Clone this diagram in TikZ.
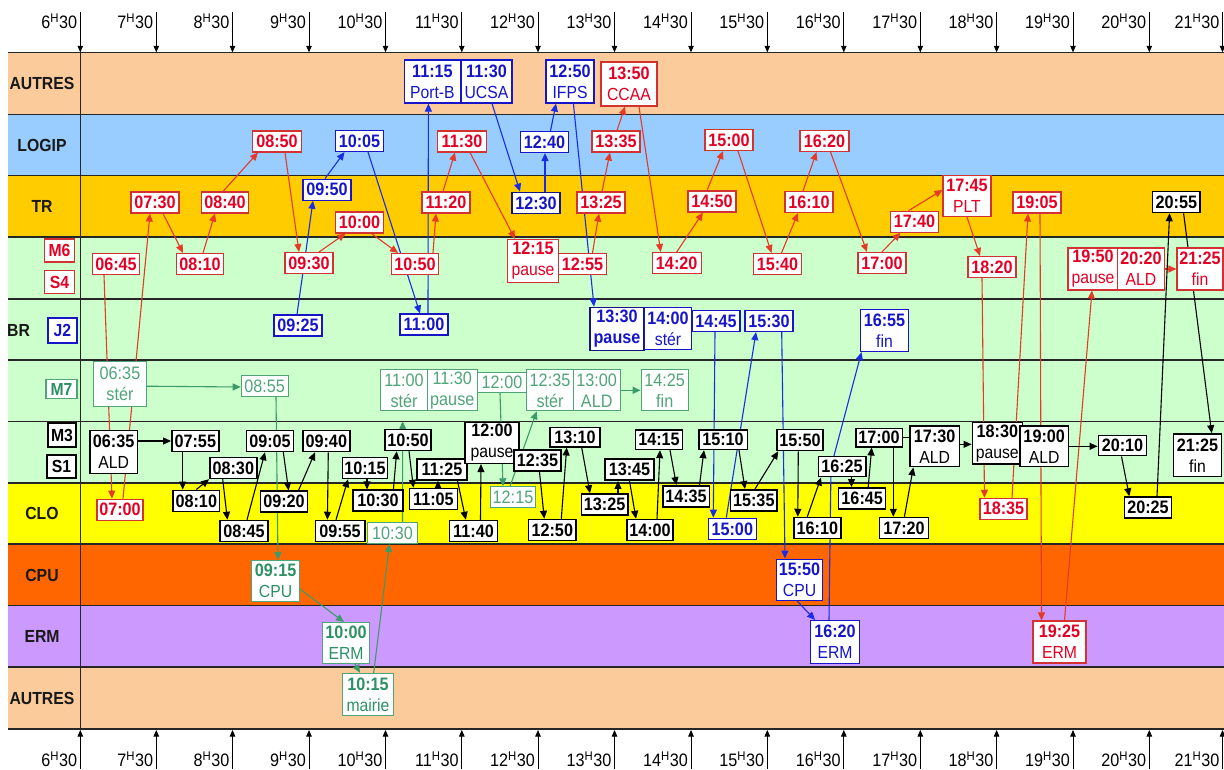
\documentclass[tikz,border=0pt]{standalone}
\usepackage{fontspec}
\setmainfont{Liberation Sans}[FakeStretch=0.9]
\usetikzlibrary{arrows.meta}
\definecolor{cPeach}{RGB}{251,203,155}
\definecolor{cLogip}{RGB}{153,204,255}
\definecolor{cTR}{RGB}{255,204,0}
\definecolor{cGreenBand}{RGB}{204,255,204}
\definecolor{cCLO}{RGB}{255,255,0}
\definecolor{cCPU}{RGB}{255,102,0}
\definecolor{cERM}{RGB}{204,153,255}
\definecolor{cRedT}{RGB}{228,0,36}
\definecolor{cRedB}{RGB}{210,50,50}
\definecolor{cRedL}{RGB}{228,58,38}
\definecolor{cBlueT}{RGB}{22,22,200}
\definecolor{cBlueN}{RGB}{20,20,130}
\definecolor{cBlueL}{RGB}{25,45,230}
\definecolor{cGreenT}{RGB}{80,165,120}
\definecolor{cGreenD}{RGB}{45,145,100}
\definecolor{cGreenL}{RGB}{60,155,105}
\pgfdeclarelayer{bands}
\pgfdeclarelayer{links}
\pgfsetlayers{bands,links,main}
\newcommand\secl[1]{{\fontsize{17.5}{21}\selectfont\mdseries #1}}
\begin{document}
\begin{tikzpicture}[x=1pt,y=-1pt,
  tbox/.style={draw, fill=white, inner sep=0pt, minimum width=47pt, minimum height=21pt, align=center, font=\fontsize{18}{21}\selectfont\bfseries},
  two/.style={minimum height=42pt},
  rb/.style={tbox, draw=cRedB, text=cRedT, line width=1.1pt},
  bb/.style={tbox, draw=cBlueT, text=cBlueT, line width=1.2pt},
  bbt/.style={tbox, draw=cBlueN, text=cBlueT, line width=1.8pt},
  gb/.style={tbox, draw=cGreenT, text=cGreenT, line width=1pt, font=\fontsize{18}{21}\selectfont},
  gd/.style={tbox, draw=cGreenT, text=cGreenD, line width=1pt},
  kb/.style={tbox, draw=black, text=black, line width=1.5pt},
  lred/.style={draw=cRedL, line width=1.1pt, -{Triangle[length=8pt,width=7pt]}},
  lblue/.style={draw=cBlueL, line width=1.1pt, -{Triangle[length=8pt,width=7pt]}},
  lgreen/.style={draw=cGreenL, line width=1.1pt, -{Triangle[length=8pt,width=7pt]}},
  lblack/.style={draw=black, line width=1.1pt, -{Triangle[length=8pt,width=7pt]}},
  bandline/.style={draw=black!85, line width=1.2pt},
  lab/.style={font=\fontsize{17.5}{17.5}\selectfont\bfseries, text=black!90, inner sep=0pt},
  sideb/.style={draw, fill=white, inner sep=0pt, minimum width=30pt, minimum height=23pt, line width=1.1pt, font=\fontsize{17.5}{17.5}\selectfont\bfseries},
  axl/.style={font=\fontsize{18}{18}\selectfont, anchor=base east, inner sep=0pt},
  axarrow/.style={line width=0.8pt, -{Triangle[length=6.5pt,width=5.5pt]}}
]
\useasboundingbox (0,0) rectangle (1224,769);
\begin{pgfonlayer}{bands}
\fill[white] (0,0) rectangle (1224,769);
\fill[cPeach] (8,52.3) rectangle (1224,114.3);
\fill[cLogip] (8,114.3) rectangle (1224,175.7);
\fill[cTR] (8,175.7) rectangle (1224,237);
\fill[cGreenBand] (8,237) rectangle (1224,483);
\fill[cCLO] (8,483) rectangle (1224,544);
\fill[cCPU] (8,544) rectangle (1224,605.7);
\fill[cERM] (8,605.7) rectangle (1224,667);
\fill[cPeach] (8,667) rectangle (1224,729);
\foreach \yy in {52.3,114.3,175.7,237,299,360,421.7,483,544,605.7,667,729}
  \draw[bandline] (8,\yy) -- (1224,\yy);
\draw[bandline] (80.3,52.3) -- (80.3,729);
\end{pgfonlayer}

% time axis
\foreach \xx/\hh in {80.3/6,156.3/7,232.5/8,309/9,385.5/10,461.8/11,538/12,614.5/13,691/14,767.3/15,843.8/16,920.3/17,996.6/18,1073/19,1149.3/20,1222.5/21}{
  \draw[axarrow] (\xx,12.3) -- (\xx,52.3);
  \draw[axarrow] (\xx,769) -- (\xx,730);
  \node[axl] (ta\hh) at (\xx-3,28.5) {\hh\textsuperscript{H}30};
  \node[axl] (ba\hh) at (\xx-3,766.5) {\hh\textsuperscript{H}30};
}

% row labels
\node[lab] (lA1) at (42,83.3) {AUTRES};
\node[lab] (lLO) at (42,145) {LOGIP};
\node[lab] (lTR) at (42,206.5) {TR};
\node[lab,anchor=west] (lBR) at (7,330) {BR};
\node[lab] (lCLO) at (42,513.5) {CLO};
\node[lab] (lCPU) at (42,575) {CPU};
\node[lab] (lERM) at (42,636.5) {ERM};
\node[lab] (lA2) at (42,698) {AUTRES};
\node[sideb, draw=cRedB, text=cRedT] (sM6) at (59.5,250.5) {M6};
\node[sideb, draw=cRedB, text=cRedT] (sS4) at (59.5,282) {S4};
\node[sideb, draw=cBlueT, text=cBlueT, minimum width=29pt, minimum height=25pt] (sJ2) at (62.5,330.5) {J2};
\node[sideb, draw=cGreenT, text=cGreenD, minimum width=31pt, minimum height=19pt] (sM7) at (61.5,389) {M7};
\node[sideb, draw=black, text=black, line width=1.5pt, minimum width=28pt, minimum height=24pt] (sM3) at (62,435) {M3};
\node[sideb, draw=black, text=black, line width=1.5pt, minimum width=29pt] (sS1) at (61.5,466.5) {S1};

% red nodes
\node[rb] (r0645) at (116,264) {06:45};
\node[rb,minimum width=48pt] (r0730) at (155,202.5) {07:30};
\node[rb] (r0810) at (200,264) {08:10};
\node[rb] (r0840) at (225,202.5) {08:40};
\node[rb,minimum width=49pt] (r0850) at (277,141.5) {08:50};
\node[rb,minimum width=48pt] (r0930) at (309,263) {09:30};
\node[rb,minimum width=48pt] (r1000) at (359.5,222.5) {10:00};
\node[rb] (r1050) at (415,264) {10:50};
\node[rb,minimum width=48pt] (r1120) at (446,202.5) {11:20};
\node[rb,minimum width=49pt] (r1130) at (462,141.5) {11:30};
\node[rb,two,minimum width=51pt,minimum height=43pt] (r1215) at (533,261) {12:15\\\secl{pause}};
\node[rb,minimum width=48pt] (r1255) at (582.5,264) {12:55};
\node[rb,minimum width=48pt] (r1325) at (601,202.5) {13:25};
\node[rb,minimum width=48pt] (r1335) at (616,141.5) {13:35};
\node[rb,two,minimum width=56pt,minimum height=44pt] (r1350) at (629,84) {13:50\\\secl{CCAA}};
\node[rb,minimum width=49pt] (r1420) at (676.7,263) {14:20};
\node[rb,minimum width=48pt] (r1450) at (712,201.5) {14:50};
\node[rb,minimum width=48pt] (r1500) at (729,140) {15:00};
\node[rb,minimum width=48pt] (r1540) at (777.5,264) {15:40};
\node[rb,minimum width=48pt] (r1610) at (809,202) {16:10};
\node[rb,minimum width=49pt] (r1620) at (824.5,141) {16:20};
\node[rb,minimum width=48pt] (r1700) at (882,263) {17:00};
\node[rb,minimum width=48pt] (r1740) at (914.5,221.7) {17:40};
\node[rb,two,minimum width=48pt,minimum height=41pt] (r1745) at (967,196) {17:45\\\secl{PLT}};
\node[rb,minimum width=48pt] (r1820) at (992,267) {18:20};
\node[rb,minimum width=48pt] (r1905) at (1037,202.5) {19:05};
\node[rb,two,minimum width=50pt] (r1950) at (1093,269) {19:50\\\secl{pause}};
\node[rb,two,minimum width=46.5pt] (r2020) at (1141,269) {20:20\\\secl{ALD}};
\node[rb,two,minimum width=46pt] (r2125) at (1200,269) {21:25\\\secl{fin}};
\node[rb,minimum width=46pt] (r0700) at (120,509.7) {07:00};
\node[rb] (r1835) at (1003.5,508.8) {18:35};
\node[rb,two,minimum width=53pt] (r1925) at (1059.5,642) {19:25\\\secl{ERM}};

% blue nodes
\node[bb,minimum width=48pt] (b0925) at (298,325.5) {09:25};
\node[bb,minimum width=48pt] (b0950) at (327,189.7) {09:50};
\node[bb,minimum width=48pt] (b1005) at (359.5,141) {10:05};
\node[bb,minimum width=48pt] (b1100) at (424,324.5) {11:00};
\node[bb,two,minimum width=56.6pt,minimum height=43pt] (b1115) at (432.4,81.5) {11:15\\\secl{Port-B}};
\node[bb,two,minimum width=51pt,minimum height=43pt] (b1130) at (486.5,81.5) {11:30\\\secl{UCSA}};
\node[bbt,minimum width=48pt] (b1230) at (536,203) {12:30};
\node[bb,minimum width=48pt] (b1240) at (544.5,142) {12:40};
\node[bb,two,minimum width=48pt,minimum height=43pt] (b1250) at (570,81.5) {12:50\\\secl{IFPS}};
\node[bbt,two,minimum width=54pt,minimum height=43pt] (b1330) at (617,329) {13:30\\pause};
\node[bb,two,minimum width=47.5pt] (b1400) at (668,328.5) {14:00\\\secl{stér}};
\node[bb,minimum width=48pt] (b1445) at (716,321) {14:45};
\node[bb,minimum width=48pt] (b1530) at (769,321) {15:30};
\node[bb,two,minimum width=48pt] (b1655) at (884.5,330.5) {16:55\\\secl{fin}};
\node[bb,minimum width=48pt] (b1500) at (732.3,528.8) {15:00};
\node[bb,two,minimum width=46.5pt,minimum height=41pt] (b1550) at (799.5,579.7) {15:50\\\secl{CPU}};
\node[bb,two,minimum width=48.5pt,minimum height=43pt] (b1620) at (835,642) {16:20\\\secl{ERM}};

% green nodes
\node[gb,two,minimum width=53.4pt,minimum height=45pt] (g0635) at (120,384.2) {06:35\\stér};
\node[gb,minimum width=47pt] (g0855) at (264.7,386) {08:55};
\node[gb,two,minimum width=46.6pt,minimum height=41pt] (g1100) at (404,390.3) {11:00\\stér};
\node[gb,two,minimum width=50pt,minimum height=41pt] (g1130) at (452.3,390.3) {11:30\\pause};
\node[gb,minimum width=49.4pt,minimum height=20pt] (g1200) at (502,382.7) {12:00};
\node[gb,two,minimum width=46.6pt,minimum height=41pt] (g1235) at (550,390.3) {12:35\\stér};
\node[gb,two,minimum width=46.7pt,minimum height=41pt] (g1300) at (596.7,390.3) {13:00\\ALD};
\node[gb,two,minimum width=47.3pt,minimum height=41pt] (g1425) at (664.7,390.3) {14:25\\fin};
\node[gb,minimum width=49.5pt] (g1030) at (392.5,533) {10:30};
\node[gb,minimum width=45.5pt] (g1215) at (513,497.3) {12:15};
\node[gd,two,minimum width=47.5pt,minimum height=41pt] (g0915) at (275.6,581) {09:15\\\secl{CPU}};
\node[gd,two,minimum width=47.5pt,minimum height=41pt] (g1000) at (346,643) {10:00\\\secl{ERM}};
\node[gd,two,minimum width=50.5pt,minimum height=42.4pt] (g1015) at (368,694.5) {10:15\\\secl{mairie}};

% black nodes
\node[kb,two,minimum width=47.3pt,minimum height=42.6pt] (k0635) at (113.7,452) {06:35\\\secl{ALD}};
\node[kb] (k0755) at (195.3,441) {07:55};
\node[kb] (k0905) at (270,441) {09:05};
\node[kb] (k0940) at (326.3,441) {09:40};
\node[kb] (k0830) at (233.3,468) {08:30};
\node[kb,minimum width=45pt] (k1015) at (365,468) {10:15};
\node[kb,minimum width=46pt] (k1050) at (408,440) {10:50};
\node[kb,minimum width=50pt] (k1125) at (442,469.5) {11:25};
\node[kb,two,minimum width=54pt,minimum height=40.6pt] (k1200) at (492,443) {12:00\\\secl{pause}};
\node[kb] (k1235) at (537.5,460.7) {12:35};
\node[kb,minimum width=50pt,minimum height=19.5pt] (k1310) at (575,437) {13:10};
\node[kb,minimum width=49pt] (k1345) at (629.5,469.7) {13:45};
\node[kb,minimum width=47pt,minimum height=19.5pt] (k1415) at (659,439.7) {14:15};
\node[kb,minimum width=48.5pt,minimum height=19.5pt] (k1510) at (723,439.7) {15:10};
\node[kb,minimum width=46pt] (k1550) at (800,440) {15:50};
\node[kb,minimum width=47.5pt,minimum height=20pt] (k1625) at (842,466.7) {16:25};
\node[kb,minimum width=46.5pt,minimum height=18.5pt] (k1700) at (879,437.5) {17:00};
\node[kb,two,minimum width=49.3pt,minimum height=40.7pt] (k1730) at (934.7,446.3) {17:30\\\secl{ALD}};
\node[kb,two,minimum width=50pt,minimum height=41.3pt] (k1830) at (997.3,443.3) {18:30\\\secl{pause}};
\node[kb,two,minimum width=48.3pt,minimum height=40.7pt] (k1900) at (1044.2,446.3) {19:00\\\secl{ALD}};
\node[kb,minimum width=48.4pt,minimum height=20pt] (k2010) at (1122.5,445.7) {20:10};
\node[kb,two,minimum width=48.4pt,minimum height=42.7pt] (k2125) at (1197.5,455.3) {21:25\\\secl{fin}};
\node[kb,minimum width=47.3pt] (k2055) at (1176.3,202) {20:55};
\node[kb,minimum width=46.3pt] (k0810) at (196.3,500.8) {08:10};
\node[kb,minimum width=48pt] (k0845) at (244,531) {08:45};
\node[kb,minimum width=47.4pt] (k0920) at (284,501.7) {09:20};
\node[kb,minimum width=49.5pt] (k0955) at (340,531) {09:55};
\node[kb,minimum width=50pt] (k1030) at (378,500.7) {10:30};
\node[kb,minimum width=48pt] (k1105) at (433.4,499) {11:05};
\node[kb,minimum width=48pt] (k1140) at (473.5,531) {11:40};
\node[kb,minimum width=47.3pt] (k1250) at (552.3,530) {12:50};
\node[kb,minimum width=46.6pt] (k1325) at (604.6,504.5) {13:25};
\node[kb,minimum width=46pt] (k1400) at (650,530) {14:00};
\node[kb,minimum width=46.5pt] (k1435) at (686,496.3) {14:35};
\node[kb,minimum width=46.5pt] (k1535) at (753.8,500.3) {15:35};
\node[kb,minimum width=47pt] (k1610) at (817.3,528) {16:10};
\node[kb,minimum width=47pt] (k1645) at (862.2,498.3) {16:45};
\node[kb,minimum width=48.6pt] (k1720) at (904,528) {17:20};
\node[kb,minimum width=47.3pt] (k2025) at (1148,507.5) {20:25};

\coordinate (bk) at (831,467);

\begin{pgfonlayer}{links}
% red
\draw[lred] ([xshift=-12pt]r0645.south) -- ([xshift=-8pt]r0700.north);
\draw[lred] ([xshift=3pt]r0700.north) -- ([xshift=-5pt]r0730.south);
\draw[lred] ([xshift=8pt]r0730.south) -- ([xshift=-17pt]r0810.north);
\draw[lred] ([xshift=3pt]r0810.north) -- ([xshift=-10pt]r0840.south);
\draw[lred] ([xshift=-2pt]r0840.north) -- ([xshift=-19pt]r0850.south);
\draw[lred] ([xshift=8pt]r0850.south) -- ([xshift=-10pt]r0930.north);
\draw[lred] ([xshift=10pt]r0930.north) -- ([xshift=-14pt]r1000.south);
\draw[lred] ([xshift=12pt]r1000.south) -- ([xshift=-17pt]r1050.north);
\draw[lred] ([xshift=18pt]r1050.north) -- ([xshift=-10pt]r1120.south);
\draw[lred] ([xshift=-3pt]r1120.north) -- ([xshift=-7pt]r1130.south);
\draw[lred] ([xshift=8pt]r1130.south) -- ([xshift=-18pt]r1215.north);
\draw[lred] ([xshift=10pt]r1255.north) -- ([xshift=-2pt]r1325.south);
\draw[lred] ([xshift=1pt]r1325.north) -- ([xshift=-6pt]r1335.south);
\draw[lred] ([xshift=1pt]r1335.north) -- ([xshift=-4pt]r1350.south);
\draw[lred] ([xshift=10pt]r1350.south) -- ([xshift=-16pt]r1420.north);
\draw[lred] (r1420.north) -- ([xshift=-9pt]r1450.south);
\draw[lred] ([xshift=-5pt]r1450.north) -- ([xshift=-6pt]r1500.south);
\draw[lred] ([xshift=9pt]r1500.south) -- ([xshift=-6pt]r1540.north);
\draw[lred] ([xshift=4pt]r1540.north) -- ([xshift=-11pt]r1610.south);
\draw[lred] ([xshift=-6pt]r1610.north) -- ([xshift=-8pt]r1620.south);
\draw[lred] ([xshift=6pt]r1620.south) -- ([xshift=-15pt]r1700.north);
\draw[lred] (r1700.north) -- ([xshift=-14pt]r1740.south);
\draw[lred] ([xshift=-6pt]r1740.north) -- ([yshift=6pt]r1745.west);
\draw[lred] (r1745.south) -- ([xshift=-12pt]r1820.north);
\draw[lred] ([xshift=-10pt]r1820.south) -- ([xshift=-19pt]r1835.north);
\draw[lred] ([xshift=8.5pt]r1835.north) -- ([xshift=-9pt]r1905.south);
\draw[lred] ([xshift=3pt]r1905.south) -- ([xshift=-18pt]r1925.north);
\draw[lred] ([xshift=5pt]r1925.north) -- ([xshift=-1pt]r1950.south);
\draw[lred] (r2020.east) -- (r2125.west);
% blue
\draw[lblue] ([xshift=-1pt]b0925.north) -- ([xshift=-14pt]b0950.south);
\draw[lblue] ([xshift=-2pt]b0950.north) -- ([xshift=-15pt]b1005.south);
\draw[lblue] ([xshift=8.5pt]b1005.south) -- ([xshift=-4pt]b1100.north);
\draw[lblue] ([xshift=4pt]b1100.north) -- ([xshift=-4pt]b1115.south);
\draw[lblue] ([xshift=5.5pt]b1130.south) -- ([xshift=-16pt]b1230.north);
\draw[lblue] ([xshift=9pt]b1230.north) -- ([xshift=0.5pt]b1240.south);
\draw[lblue] ([xshift=6pt]b1240.north) -- ([xshift=-14pt]b1250.south);
\draw[lblue] ([xshift=3.4pt]b1250.south) -- ([xshift=-23pt]b1330.north);
\draw[lblue] ([xshift=-1pt]b1445.south) -- ([xshift=-19pt]b1500.north);
\draw[lblue] ([xshift=-6pt]b1500.north) -- ([xshift=-13pt]b1530.south);
\draw[lblue] ([xshift=12.7pt]b1530.south) -- ([xshift=-14.5pt]b1550.north);
\draw[lblue] ([xshift=-2.5pt]b1550.south) -- ([xshift=-20pt]b1620.north);
\draw[lblue] ([xshift=-6pt]b1620.north) -- (bk) -- ([xshift=-23pt]b1655.south);
% green
\draw[lgreen] ([yshift=-2pt]g0635.east) -- ([yshift=-1pt]g0855.west);
\draw[lgreen] ([xshift=11.3pt]g0855.south) -- ([xshift=2.4pt]g0915.north);
\draw[lgreen] ([yshift=-8pt]g0915.east) -- ([xshift=-2pt]g1000.north);
\draw[lgreen] ([xshift=9pt]g1000.south) -- ([xshift=-8pt]g1015.north);
\draw[lgreen] ([xshift=5.7pt]g1015.north) -- ([xshift=-3pt]g1030.south);
\draw[lgreen, shorten >=10pt] ([xshift=10pt]g1030.north) -- ([xshift=-1.3pt]g1100.south);
\draw[lgreen] ([xshift=-2pt]g1200.south) -- ([xshift=-10pt]g1215.north);
\draw[lgreen] ([xshift=-3pt]g1215.north) -- ([xshift=-13.3pt]g1235.south);
\draw[lgreen] (g1300.east) -- (g1425.west);
% black
\draw[lblack] ([yshift=11pt]k0635.east) -- (k0755.west);
\draw[lblack] ([xshift=-12.6pt]k0755.south) -- ([xshift=-13.6pt]k0810.north);
\draw[lblack] (k0810.north) -- (k0830.south west);
\draw[lblack] ([xshift=-10.6pt]k0830.south) -- ([xshift=-16.6pt]k0845.north);
\draw[lblack] ([xshift=3pt]k0845.north) -- ([xshift=-5pt]k0905.south);
\draw[lblack] ([xshift=13.3pt]k0905.south) -- ([xshift=4.6pt]k0920.north);
\draw[lblack] ([xshift=14.5pt]k0920.north) -- ([xshift=-11.3pt]k0940.south);
\draw[lblack] ([xshift=2pt]k0940.south) -- ([xshift=-12.6pt]k0955.north);
\draw[lblack] ([xshift=-4pt]k0955.north) -- ([xshift=-17pt]k1015.south);
\draw[lblack] ([xshift=2pt]k1015.south) -- ([xshift=-11pt]k1030.north);
\draw[lblack] ([xshift=15.4pt]k1030.north) -- ([xshift=-11.3pt]k1050.south);
\draw[lblack] ([xshift=1pt]k1050.south) -- ([xshift=-20pt]k1105.north);
\draw[lblack] ([xshift=4.6pt]k1105.north) -- ([xshift=-4pt]k1125.south);
\draw[lblack] ([xshift=15.5pt]k1125.south) -- ([xshift=-7.7pt]k1140.north);
\draw[lblack] ([xshift=7pt]k1140.north) -- ([xshift=-11pt]k1200.south);
\draw[lblack] ([xshift=2pt]k1235.south) -- ([xshift=-8pt]k1250.north);
\draw[lblack] ([xshift=9pt]k1250.north) -- ([xshift=-8.3pt]k1310.south);
\draw[lblack] ([xshift=6.7pt]k1310.south) -- ([xshift=-14.6pt]k1325.north);
\draw[lblack] ([xshift=13.4pt]k1325.north) -- ([xshift=-11.5pt]k1345.south);
\draw[lblack] (k1345.south) -- ([xshift=-14pt]k1400.north);
\draw[lblack] ([xshift=7pt]k1400.north) -- ([xshift=1pt]k1415.south);
\draw[lblack] ([xshift=11pt]k1415.south) -- ([xshift=-9.6pt]k1435.north);
\draw[lblack] ([xshift=13.5pt]k1435.north) -- ([xshift=-19pt]k1510.south);
\draw[lblack] ([xshift=16pt]k1510.south) -- ([xshift=-8.8pt]k1535.north);
\draw[lblack] ([xshift=1.2pt]k1535.north) -- ([xshift=2pt]k1550.south west);
\draw[lblack] ([xshift=-1.7pt]k1550.south) -- ([xshift=-19.5pt]k1610.north);
\draw[lblack] ([xshift=-10pt]k1610.north) -- ([xshift=-21pt]k1625.south);
\draw[lblack] ([xshift=9.5pt]k1625.south) -- ([xshift=-10.7pt]k1645.north);
\draw[lblack] ([xshift=6pt]k1645.north) -- ([xshift=-7.3pt]k1700.south);
\draw[lblack] ([xshift=14.3pt]k1700.south) -- ([xshift=-10.7pt]k1720.north);
\draw[lblack, -] (k1700.east) -- (k1700.east -| k1730.west);
\draw[lblack] ([xshift=0.4pt]k1720.north) -- ([xshift=-21.4pt]k1730.south);
\draw[lblack] ([yshift=2pt]k1730.east) -- ([yshift=2pt]k1730.east -| k1830.west);
\draw[lblack] (k1900.east) -- (k1900.east -| k2010.west);
\draw[lblack] ([xshift=-1pt]k2010.south) -- ([xshift=-18.7pt]k2025.north);
\draw[lblack] ([xshift=9pt]k2025.north) -- ([xshift=-6.7pt]k2055.south);
\draw[lblack] ([xshift=7.3pt]k2055.south) -- ([xshift=14.2pt]k2125.north);
\end{pgfonlayer}
\end{tikzpicture}
\end{document}
